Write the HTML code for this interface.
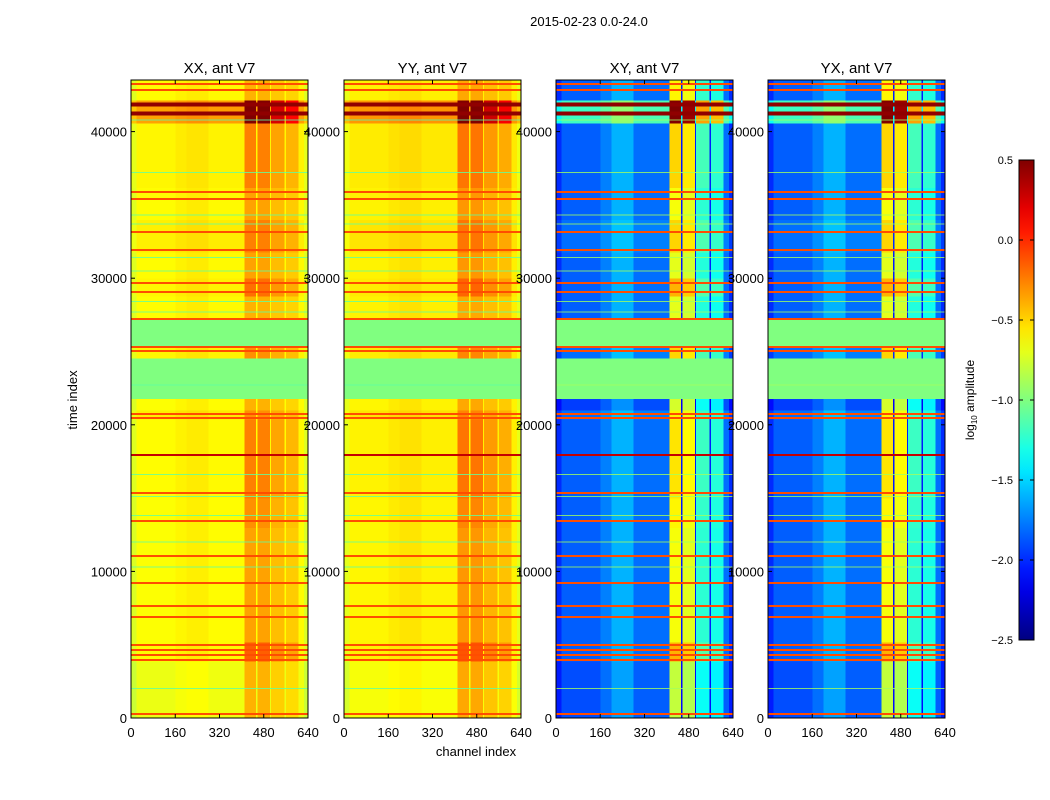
<!DOCTYPE html>
<html><head><meta charset="utf-8"><style>
html,body{margin:0;padding:0;background:#fff;}
svg{display:block;font-family:"Liberation Sans",sans-serif;}
</style></head><body>
<svg id="fig" width="1050" height="800" viewBox="0 0 1050 800">
<rect width="1050" height="800" fill="#fff"/>
<text x="589" y="26" font-size="13" text-anchor="middle">2015-02-23 0.0-24.0</text>
<text x="476" y="756" font-size="13" text-anchor="middle">channel index</text>
<text x="77" y="400" font-size="13" text-anchor="middle" transform="rotate(-90 77 400)">time index</text>
<g id="panels"></g>
<g id="cbar"></g>
</svg>
<script>
const panelTitles=["XX, ant V7","YY, ant V7","XY, ant V7","YX, ant V7"];
const panelKind=["auto","auto","cross","cross"];
const panelShift=[0,0.03,0,0];
const xTicks=[0,160,320,480,640];
const yTicks=[0,10000,20000,30000,40000];
const colEdges=[0,20,160,200,280,410,452,458,502,506,555,560,605,625,640];
const colRole=["bgE","bg0","bg1","bg2","bg3","s0","g","s1","g","s2","g","s3","bg3","bgE"];
const autoBgOff={bgE:-0.1,bg0:0,bg1:0.03,bg2:0.05,bg3:0.01,g:0};
const crossBgOff={bgE:-0.15,bg0:0,bg1:0.1,bg2:0.25,bg3:0.05,g:-0.2};
const autoStW=[1,1,0.7,0.55];
const crossStW=[1,0.95,0.5,0.45];
const bandT0=[0,3900,5200,13000,15000,20400,21000,21800,24550,25300,27200,28800,30000,31800,34000,36200,40600,42150];
const bandT1=[3900,5200,13000,15000,20400,21000,21800,24550,25300,27200,28800,30000,31800,34000,36200,40600,42150,43520];
const autoBg=[-0.68,-0.62,-0.63,-0.63,-0.62,-0.58,-0.63,-1.0,-0.6,-1.0,-0.62,-0.6,-0.62,-0.58,-0.62,-0.6,-0.35,-0.62];
const autoSt=[-0.4,-0.15,-0.35,-0.3,-0.25,-0.3,-0.4,-1.0,-0.3,-1.0,-0.4,-0.2,-0.35,-0.25,-0.35,-0.25,0.5,-0.4];
const crossBg=[-1.9,-1.85,-1.85,-1.85,-1.85,-1.8,-1.95,-1.0,-1.8,-1.0,-1.85,-1.85,-1.85,-1.8,-1.85,-1.85,-1.2,-1.85];
const crossSt=[-0.8,-0.4,-0.65,-0.6,-0.55,-0.6,-0.75,-1.0,-0.5,-1.0,-0.7,-0.4,-0.7,-0.5,-0.65,-0.5,0.5,-0.6];
const redLines=[273,3956,4297,4638,4980,6890,7640,9209,11050,13440,15350,17940,20460,20730,25030,25300,27210,29060,29670,31930,33150,35400,35880,41300,41900,42840,43240];
const redVal=[-0.1,-0.1,-0.1,-0.1,-0.1,-0.1,-0.1,-0.1,-0.1,-0.1,-0.1,0.3,-0.1,-0.1,-0.1,-0.1,-0.1,-0.1,-0.1,-0.1,-0.1,-0.1,-0.1,0.45,0.45,-0.1,-0.1];
const cyanLines=[2000,10300,12000,13800,15100,16600,22700,27700,28400,30500,31400,33700,34300,37200,40800];
const vmin=-2.5,vmax=0.5,tmax=43520;
const px0=[131,344,556,768],pw=177,py0=80,py1=718;
const NS="http://www.w3.org/2000/svg";
function jet(v){let n=(v-vmin)/(vmax-vmin);n=Math.max(0,Math.min(1,n));
 const c=x=>Math.round(255*Math.max(0,Math.min(1,x)));
 return `rgb(${c(1.5-Math.abs(4*n-3))},${c(1.5-Math.abs(4*n-2))},${c(1.5-Math.abs(4*n-1))})`;}
function mk(tag,attrs,parent){const e=document.createElementNS(NS,tag);for(const k in attrs)e.setAttribute(k,attrs[k]);parent.appendChild(e);return e;}
const root=document.getElementById('panels');
for(let p=0;p<4;p++){
 const xs=c=>px0[p]+c/640*pw;
 const ys=t=>py1-t/tmax*(py1-py0);
 const g=mk('g',{},root);
 
 
 const hm=mk('g',{'shape-rendering':'crispEdges'},g);
 
 
 const auto=panelKind[p]==="auto";
 for(let b=0;b<bandT0.length;b++){
  const bg=(auto?autoBg[b]:crossBg[b])+panelShift[p], st=(auto?autoSt[b]:crossSt[b])+panelShift[p];
  const flag=(auto?autoBg[b]:crossBg[b])===-1.0&&(auto?autoSt[b]:crossSt[b])===-1.0;
  for(let c=0;c<colRole.length;c++){
   const r=colRole[c];let v;
   if(flag)v=-1.0;
   else if(r[0]==='s'){const i=+r[1];v=bg+(st-bg)*(auto?autoStW[i]:crossStW[i]);}
   else v=bg+(auto?autoBgOff[r]:crossBgOff[r]);
   const y1=ys(bandT1[b]),y0=ys(bandT0[b]);
   const rc=mk('rect',{x:xs(colEdges[c]),y:y1,width:xs(colEdges[c+1])-xs(colEdges[c])+0.5,height:y0-y1+0.5,fill:jet(v)},hm);
   
   
  }
 }
 for(let i=0;i<cyanLines.length;i++){
  const l=mk('rect',{x:xs(0),y:ys(cyanLines[i])-0.5,width:pw,height:1,fill:jet(auto?-1.1:-0.9),opacity:0.8},hm);
  
  
 }
 for(let i=0;i<redLines.length;i++){
  const l=mk('rect',{x:xs(0),y:ys(redLines[i])-1,width:pw,height:redVal[i]>0.4?4:2,fill:jet(redVal[i])},hm);
  
  
 }
 const fr=mk('rect',{x:px0[p],y:py0,width:pw,height:py1-py0,fill:'none',stroke:'#000','stroke-width':1},g);
 
 
 const tt=mk('text',{x:px0[p]+pw/2,y:73,'font-size':15,'text-anchor':'middle'},g);
 tt.textContent=panelTitles[p];
 
 
 for(const t of xTicks){
  const x=xs(t);
  mk('line',{x1:x,x2:x,y1:py1,y2:py1-4,stroke:'#000'},g);
  mk('line',{x1:x,x2:x,y1:py0,y2:py0+4,stroke:'#000'},g);
  const lb=mk('text',{x:x,y:737,'font-size':13,'text-anchor':'middle'},g);
  lb.textContent=t;
  
  
 }
 for(const t of yTicks){
  const y=ys(t);
  mk('line',{x1:px0[p],x2:px0[p]+4,y1:y,y2:y,stroke:'#000'},g);
  mk('line',{x1:px0[p]+pw,x2:px0[p]+pw-4,y1:y,y2:y,stroke:'#000'},g);
  const lb=mk('text',{x:px0[p]-4,y:y+5,'font-size':13,'text-anchor':'end'},g);
  lb.textContent=t;
  
  
 }
}
const cbTicks=[0.5,0,-0.5,-1,-1.5,-2,-2.5];
const cb=document.getElementById('cbar');
const defs=mk('defs',{},cb);
const lg=mk('linearGradient',{id:'jetg',x1:0,y1:1,x2:0,y2:0},defs);
for(let i=0;i<=20;i++){mk('stop',{offset:i/20,'stop-color':jet(vmin+(vmax-vmin)*i/20)},lg);}
const cy=v=>640-(v-vmin)/(vmax-vmin)*480;
const bar=mk('rect',{x:1019,y:160,width:15,height:480,fill:'url(#jetg)',stroke:'#000'},cb);


for(const v of cbTicks){
 const y=cy(v);
 mk('line',{x1:1019,x2:1023,y1:y,y2:y,stroke:'#000'},cb);
 mk('line',{x1:1034,x2:1030,y1:y,y2:y,stroke:'#000'},cb);
 const lb=mk('text',{x:1013,y:y+4,'font-size':11,'text-anchor':'end'},cb);
 lb.textContent=(v>0?v.toFixed(1):v===0?"0.0":"\u2212"+Math.abs(v).toFixed(1));
 
 
}
const cl=mk('text',{x:974,y:400,'font-size':12,'text-anchor':'middle',transform:'rotate(-90 974 400)'},cb);
cl.innerHTML='log<tspan font-size="8" dy="3">10</tspan><tspan dy="-3"> amplitude</tspan>';


</script>
</body></html>
